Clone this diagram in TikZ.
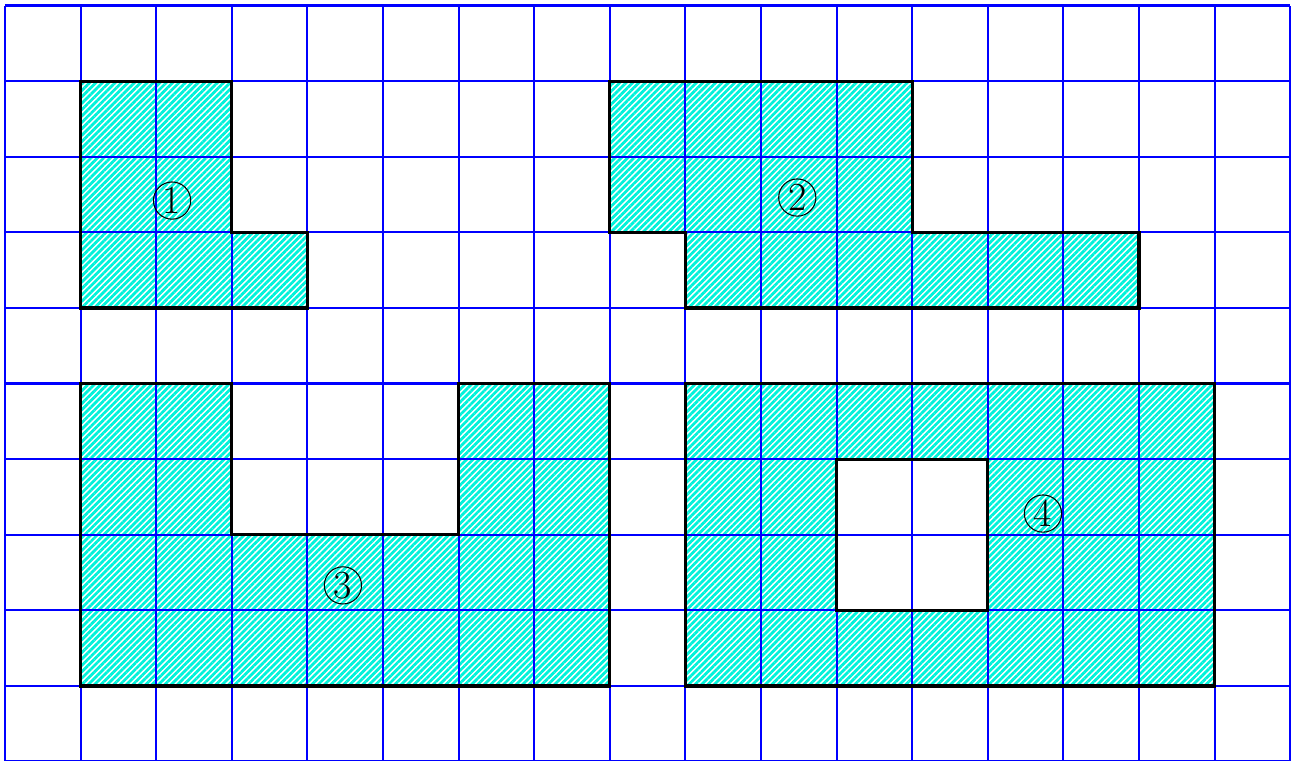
\documentclass[tikz,border=0pt]{standalone}
\usetikzlibrary{patterns.meta}
\definecolor{hatchcol}{RGB}{0,242,218}
\begin{document}
\begin{tikzpicture}[
    region/.style={pattern={Lines[angle=45,distance=1.7pt,line width=1.05pt]},pattern color=hatchcol},
    edge/.style={black,line width=1.2pt,line join=miter},
    tag/.style={draw,circle,thin,inner sep=0pt,minimum size=14pt,font=\fontsize{15}{15}\selectfont}]
    \useasboundingbox (-0.066,0.02) rectangle (17.077,10.073);

    % shaded pieces
    \fill[region] (1,9)--(3,9)--(3,7)--(4,7)--(4,6)--(1,6)--cycle;
    \fill[region] (8,9)--(12,9)--(12,7)--(15,7)--(15,6)--(9,6)--(9,7)--(8,7)--cycle;
    \fill[region] (1,5)--(3,5)--(3,3)--(6,3)--(6,5)--(8,5)--(8,1)--(1,1)--cycle;
    \fill[region,even odd rule] (9,1) rectangle (16,5) (11,2) rectangle (13,4);

    \draw[blue,line width=0.8pt] (0,0) grid (17,10);

    \draw[edge] (1,9)--(3,9)--(3,7)--(4,7)--(4,6)--(1,6)--cycle;
    \draw[edge] (8,9)--(12,9)--(12,7)--(15,7)--(15,6)--(9,6)--(9,7)--(8,7)--cycle;
    \draw[edge] (1,5)--(3,5)--(3,3)--(6,3)--(6,5)--(8,5)--(8,1)--(1,1)--cycle;
    \draw[edge] (9,1) rectangle (16,5) (11,2) rectangle (13,4);

    \node[tag] (one) at (2.21,7.42) {1};
    \node[tag] (two) at (10.48,7.46) {2};
    \node[tag] (three) at (4.47,2.33) {3};
    \node[tag] (four) at (13.73,3.28) {4};
\end{tikzpicture}
\end{document}
